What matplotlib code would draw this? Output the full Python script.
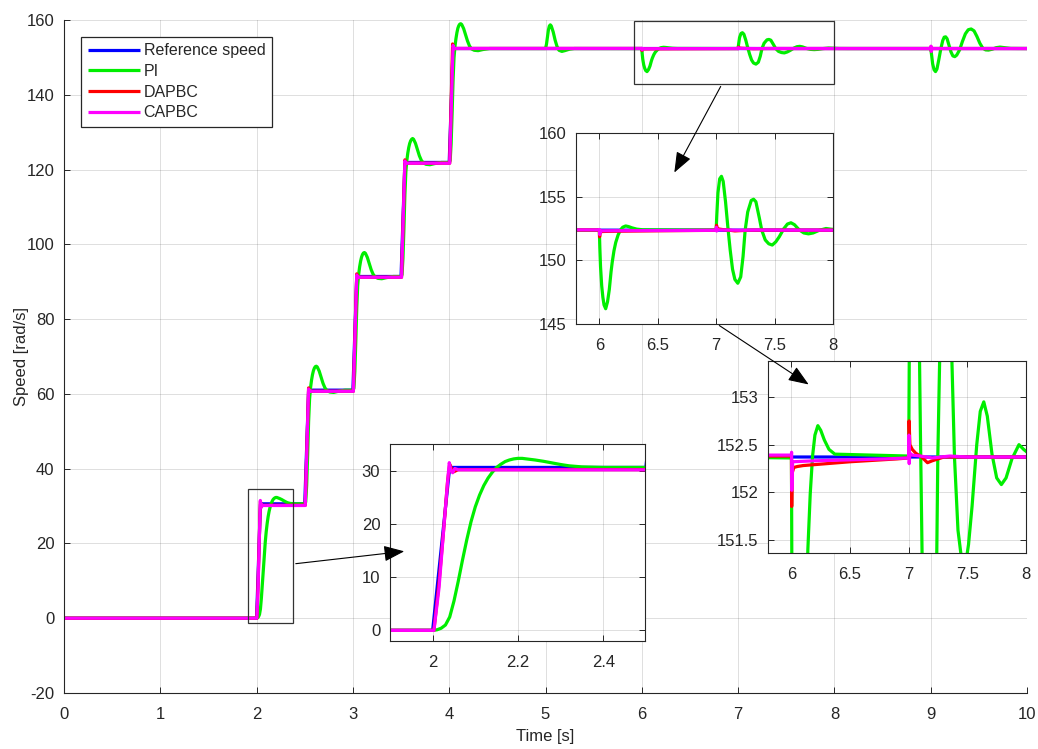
import matplotlib

matplotlib.use("Agg")

import matplotlib.pyplot as plt
from matplotlib.patches import Rectangle, FancyArrowPatch
from matplotlib.ticker import FuncFormatter

plt.rcParams.update({
    "font.family": ["Liberation Sans", "DejaVu Sans"],
    "font.size": 12,
    "text.color": "0.15",
    "axes.labelcolor": "0.15",
})

# reference speed (rad/s)
t_ref = [0.0, 2.0, 2.04, 2.5, 2.54, 3.0, 3.04, 3.5, 3.54, 4.0, 4.04, 10.0]
w_ref = [0.0, 0.0, 30.6, 30.6, 61.0, 61.0, 91.4, 91.4, 121.9, 121.9, 152.37, 152.37]

# PI controller response
t_pi = [
    0.0, 2.0, 2.01, 2.02, 2.03, 2.04, 2.05, 2.06, 2.07, 2.08, 2.09, 2.10, 2.11,
    2.12, 2.13, 2.14, 2.15, 2.16, 2.17, 2.18, 2.19, 2.20, 2.21, 2.22, 2.24, 2.26,
    2.28, 2.30, 2.32, 2.35, 2.40,
    2.50, 2.51, 2.52, 2.53, 2.54, 2.55, 2.56, 2.57, 2.58, 2.59, 2.60, 2.61, 2.62,
    2.63, 2.65, 2.67, 2.69, 2.71, 2.73, 2.76, 2.80, 2.85, 2.92,
    3.00, 3.01, 3.02, 3.03, 3.04, 3.05, 3.06, 3.07, 3.08, 3.09, 3.10, 3.11, 3.12,
    3.13, 3.15, 3.17, 3.19, 3.21, 3.23, 3.26, 3.30, 3.35, 3.42,
    3.50, 3.51, 3.52, 3.53, 3.54, 3.55, 3.56, 3.57, 3.58, 3.59, 3.60, 3.61, 3.62,
    3.63, 3.65, 3.67, 3.69, 3.71, 3.73, 3.76, 3.80, 3.85, 3.92,
    4.00, 4.01, 4.02, 4.03, 4.04, 4.05, 4.06, 4.07, 4.08, 4.09, 4.10, 4.11, 4.12,
    4.13, 4.15, 4.17, 4.19, 4.21, 4.23, 4.26, 4.30, 4.35, 4.42,
    5.00, 5.01, 5.02, 5.03, 5.04, 5.05, 5.06, 5.08, 5.10, 5.12, 5.14, 5.17, 5.20,
    5.25, 5.30,
    6.00, 6.004, 6.01, 6.02, 6.03, 6.04, 6.054, 6.07, 6.085, 6.10, 6.11, 6.125,
    6.14, 6.16, 6.18, 6.20, 6.225, 6.25, 6.28, 6.32, 6.37,
    7.00, 7.005, 7.015, 7.03, 7.045, 7.06, 7.08, 7.10, 7.12, 7.14, 7.16, 7.185,
    7.21, 7.23, 7.248, 7.27, 7.30, 7.32, 7.34, 7.37, 7.39, 7.42, 7.45, 7.48,
    7.51, 7.54, 7.58, 7.61, 7.64, 7.67, 7.71, 7.75, 7.79, 7.83, 7.88, 7.94,
    7.98, 8.05, 8.15,
    9.00, 9.01, 9.02, 9.035, 9.05, 9.065, 9.085, 9.105, 9.125, 9.14, 9.155, 9.17,
    9.19, 9.21, 9.23, 9.25, 9.27, 9.30, 9.33, 9.36, 9.39, 9.42, 9.45, 9.48, 9.51,
    9.54, 9.57, 9.60, 9.64, 9.68, 9.72, 9.77, 9.83, 10.0,
]
w_pi = [
    0.0, 0.0, 0.1, 0.4, 1.0, 2.5, 5.5, 9.2, 13.2, 17.0, 20.4, 23.2, 25.4,
    27.2, 28.6, 29.7, 30.6, 31.2, 31.7, 32.0, 32.2, 32.3, 32.3, 32.2, 32.0, 31.75,
    31.45, 31.15, 30.9, 30.7, 30.6,
    30.6, 31.1, 35.6, 43.6, 52.6, 58.6, 61.6, 63.6, 65.1, 66.2, 66.9, 67.3, 67.4,
    67.2, 66.1, 64.4, 62.8, 61.6, 60.9, 60.5, 60.4, 60.7, 61.0,
    61.0, 61.5, 66.0, 74.0, 83.0, 89.0, 92.0, 94.0, 95.5, 96.6, 97.3, 97.7, 97.8,
    97.6, 96.5, 94.8, 93.2, 92.0, 91.3, 90.9, 90.8, 91.1, 91.4,
    91.4, 91.9, 96.4, 104.4, 113.4, 119.4, 122.4, 124.4, 125.9, 127.0, 127.7,
    128.1, 128.3, 128.1, 127.0, 125.3, 123.7, 122.5, 121.8, 121.4, 121.3, 121.6,
    121.9,
    121.9, 122.4, 126.9, 134.9, 143.9, 149.9, 152.9, 155.0, 156.6, 157.8, 158.5,
    158.9, 159.0, 158.8, 157.7, 156.0, 154.4, 153.1, 152.3, 151.9, 151.8, 152.1,
    152.37,
    152.37, 153.5, 155.5, 157.3, 158.4, 158.7, 158.4, 156.8, 154.6, 152.9, 151.9,
    151.6, 151.8, 152.2, 152.37,
    152.36, 151.0, 149.5, 148.0, 147.1, 146.5, 146.2, 146.75, 147.7, 149.1,
    149.85, 150.75, 151.4, 151.98, 152.38, 152.6, 152.7, 152.65, 152.55, 152.45,
    152.4,
    152.38, 153.5, 155.3, 156.4, 156.6, 156.2, 154.6, 152.6, 150.8, 149.3, 148.5,
    148.2, 148.7, 150.3, 152.37, 153.8, 154.7, 154.8, 154.6, 153.3, 152.37, 151.6,
    151.3, 151.2, 151.45, 151.85, 152.5, 152.85, 152.95, 152.8, 152.4, 152.15,
    152.08, 152.15, 152.35, 152.5, 152.45, 152.38, 152.37,
    152.37, 150.5, 148.3, 146.7, 146.2, 146.9, 149.5, 152.3, 154.5, 155.4, 155.5,
    155.0, 153.3, 151.5, 150.4, 150.2, 150.6, 152.0, 154.3, 156.3, 157.4, 157.6,
    157.1, 155.6, 153.8, 152.5, 152.0, 151.95, 152.2, 152.6, 152.75, 152.6, 152.4,
    152.37,
]

# DAPBC response
t_dapbc = [
    0.0, 2.003, 2.015, 2.027, 2.035, 2.04, 2.045, 2.05, 2.06,
    2.505, 2.54, 2.55, 2.56,
    3.005, 3.04, 3.05, 3.06,
    3.505, 3.54, 3.55, 3.56,
    4.005, 4.035, 4.045, 4.06,
    6.0, 6.002, 6.006, 6.02, 6.05, 6.1, 6.3, 6.5, 6.7, 6.9, 7.0, 7.003, 7.01,
    7.03, 7.06, 7.11, 7.16, 7.2, 7.3,
    9.0, 9.003, 9.006, 9.012, 10.0,
]
w_dapbc = [
    0.0, 0.0, 9.0, 20.0, 28.0, 31.2, 30.3, 29.8, 30.2,
    30.2, 61.6, 60.6, 60.7,
    60.7, 92.1, 91.1, 91.2,
    91.2, 122.6, 121.6, 121.7,
    121.7, 153.6, 152.3, 152.38,
    152.38, 151.85, 152.2, 152.26, 152.27, 152.28, 152.30, 152.32, 152.335,
    152.35, 152.36, 152.75, 152.5, 152.45, 152.41, 152.37, 152.31, 152.33, 152.37,
    152.37, 152.9, 151.7, 152.37, 152.37,
]

# CAPBC response
t_capbc = [
    0.0, 2.003, 2.015, 2.025, 2.033, 2.039, 2.043, 2.047, 2.052, 2.06,
    2.505, 2.54, 2.55, 2.56,
    3.005, 3.04, 3.05, 3.06,
    3.505, 3.54, 3.55, 3.56,
    4.005, 4.04, 4.05, 4.06,
    6.0, 6.001, 6.003, 6.01, 6.2, 6.5, 6.8, 7.0, 7.002, 7.004, 7.01, 7.03, 7.1,
    7.2, 7.35, 7.5,
    9.0, 9.003, 9.006, 9.012, 10.0,
]
w_capbc = [
    0.0, 0.0, 8.0, 18.0, 26.0, 31.5, 30.0, 29.6, 30.4, 30.15,
    30.15, 61.3, 60.6, 60.7,
    60.7, 91.8, 91.1, 91.2,
    91.2, 122.3, 121.6, 121.7,
    121.7, 153.2, 152.3, 152.39,
    152.39, 152.42, 152.02, 152.32, 152.33, 152.34, 152.35, 152.36, 152.6, 152.3,
    152.41, 152.39, 152.38, 152.36, 152.38, 152.37,
    152.37, 153.0, 151.6, 152.37, 152.37,
]

series = [
    ("Reference speed", t_ref, w_ref, "#0000ff"),
    ("PI", t_pi, w_pi, "#00ee00"),
    ("DAPBC", t_dapbc, w_dapbc, "#ff0000"),
    ("CAPBC", t_capbc, w_capbc, "#ff00ff"),
]

main_xticks = [0, 1, 2, 3, 4, 5, 6, 7, 8, 9, 10]
main_yticks = [-20, 0, 20, 40, 60, 80, 100, 120, 140, 160]
zoom1_xticks = [2, 2.2, 2.4]
zoom1_yticks = [0, 10, 20, 30]
zoom2_xticks = [6, 6.5, 7, 7.5, 8]
zoom2_yticks = [145, 150, 155, 160]
zoom3_xticks = [6, 6.5, 7, 7.5, 8]
zoom3_yticks = [151.5, 152, 152.5, 153]

W, H = 1038, 749
EDGE = "0.15"


def box(left, top, right, bottom):
    # pixel box (from top-left) -> figure fraction rect
    return [left / W, 1 - bottom / H, (right - left) / W, (bottom - top) / H]


def fpt(x, y):
    return (x / W, 1 - y / H)


def draw(ax, lw=2.3):
    for name, t, w, c in series:
        ax.plot(t, w, color=c, linewidth=lw, label=name, solid_joinstyle="round",
                solid_capstyle="butt")
    ax.grid(True, color="0.15", alpha=0.15, linewidth=0.7)
    ax.set_axisbelow(True)
    for s in ax.spines.values():
        s.set_color(EDGE)
        s.set_linewidth(0.8)
    ax.tick_params(direction="in", length=4, width=0.7, colors=EDGE,
                   labelsize=12)
    ax.tick_params(axis="x", pad=10)
    ax.tick_params(axis="y", pad=7)
    fmt = FuncFormatter(lambda v, p: f"{v:g}")
    ax.xaxis.set_major_formatter(fmt)
    ax.yaxis.set_major_formatter(fmt)


fig = plt.figure(figsize=(W / 100, H / 100), dpi=100)

ax = fig.add_axes(box(64, 20, 1027, 693))
draw(ax)
ax.set_xlim(0, 10)
ax.set_ylim(-20, 160)
ax.set_xticks(main_xticks)
ax.set_yticks(main_yticks)
ax.spines["top"].set_visible(False)
ax.spines["right"].set_visible(False)
ax.set_xlabel("Time [s]", fontsize=12, labelpad=5)
ax.set_ylabel("Speed [rad/s]", fontsize=12, labelpad=-2)
leg = ax.legend(loc="upper left", bbox_to_anchor=(0.018, 0.975), fontsize=11.5,
                frameon=True, fancybox=False, framealpha=1, edgecolor=EDGE,
                handlelength=3.3, handletextpad=0.2, labelspacing=0.36,
                borderpad=0.4, borderaxespad=0)
leg.get_frame().set_linewidth(0.9)

ax.add_patch(Rectangle((1.91, -1.2), 0.47, 35.7, fill=False, edgecolor="0.2",
                       linewidth=0.9, zorder=5))
ax.add_patch(Rectangle((5.92, 142.8), 2.08, 17.0, fill=False, edgecolor="0.2",
                       linewidth=0.9, zorder=5))

ax1 = fig.add_axes(box(390, 444, 645, 641))
draw(ax1)
ax1.set_xlim(1.9, 2.498)
ax1.set_ylim(-2, 35)
ax1.set_xticks(zoom1_xticks)
ax1.set_yticks(zoom1_yticks)

ax2 = fig.add_axes(box(576, 133, 833, 324))
draw(ax2)
ax2.set_xlim(5.8, 8)
ax2.set_ylim(145, 160)
ax2.set_xticks(zoom2_xticks)
ax2.set_yticks(zoom2_yticks)

ax3 = fig.add_axes(box(768, 361, 1026, 553))
draw(ax3)
ax3.set_xlim(5.8, 8)
ax3.set_ylim(151.36, 153.38)
ax3.set_xticks(zoom3_xticks)
ax3.set_yticks(zoom3_yticks)

for a in (ax1, ax2, ax3):
    a.tick_params(top=True, right=True)

for p0, p1 in [((293, 564), (407, 551)), ((722, 84), (673, 175)),
               ((717, 324), (811, 386))]:
    arr = FancyArrowPatch(fpt(*p0), fpt(*p1), transform=fig.transFigure,
                          arrowstyle="-|>,head_length=0.9,head_width=0.35",
                          mutation_scale=14, color="black", linewidth=0.8)
    fig.add_artist(arr)

fig.savefig("out.png", dpi=100)
